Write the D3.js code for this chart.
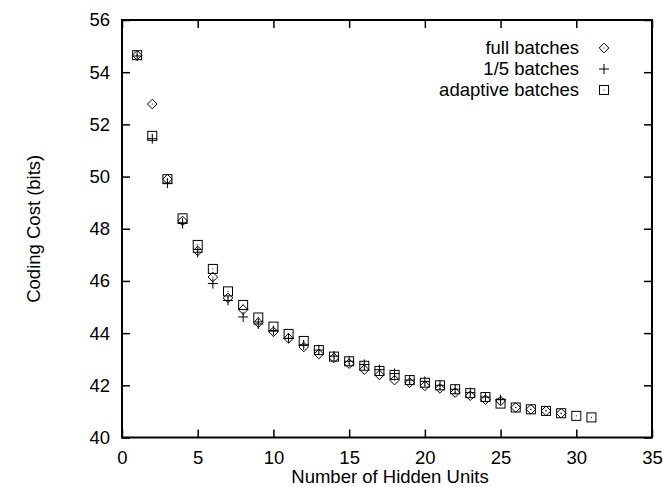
<!DOCTYPE html>
<html>
<head>
<meta charset="utf-8">
<script src="https://cdn.jsdelivr.net/npm/d3@7"></script>
<style>
  html, body { margin: 0; padding: 0; background: #fff; }
  svg { display: block; }
  text { font-family: "Liberation Sans", Arial, Helvetica, sans-serif; fill: #000; }
</style>
</head>
<body>
<svg id="chart" width="663" height="487"></svg>
<script>
// ---- data ----
const fullX = [1,2,3,4,5,6,7,8,9,10,11,12,13,14,15,16,17,18,19,20,21,22,23,24,25,26,27,28,29];
const fullY = [54.65,52.78,49.9,48.3,47.15,46.15,45.35,44.9,44.4,44.05,43.8,43.47,43.2,43.05,42.83,42.6,42.4,42.2,42.1,41.98,41.88,41.72,41.6,41.45,41.4,41.15,41.08,41.02,40.93];
const fifthX = [1,2,3,4,5,6,7,8,9,10,11,12,13,14,15,16,17,18,19,20,21,22,23,24,25];
const fifthY = [54.62,51.45,49.75,48.2,47.1,45.9,45.25,44.62,44.35,44.1,43.8,43.55,43.35,43.12,42.92,42.8,42.6,42.45,42.2,42.15,42.0,41.85,41.72,41.55,41.45];
const adaptX = [1,2,3,4,5,6,7,8,9,10,11,12,13,14,15,16,17,18,19,20,21,22,23,24,25,26,27,28,29,30,31];
const adaptY = [54.65,51.56,49.9,48.4,47.38,46.46,45.6,45.08,44.6,44.25,43.97,43.7,43.35,43.1,42.92,42.75,42.55,42.4,42.2,42.1,42.0,41.85,41.7,41.55,41.3,41.15,41.08,41.02,40.93,40.83,40.77];
const xTicks = [0,5,10,15,20,25,30,35];
const yTicks = [40,42,44,46,48,50,52,54,56];
const legendLabels = ["full batches", "1/5 batches", "adaptive batches"];
const xTitle = "Number of Hidden Units";
const yTitle = "Coding Cost (bits)";

// ---- layout ----
const L = 122, R = 652, T = 20, B = 437.5;
const svg = d3.select("#chart");
const x = d3.scaleLinear().domain([0, 35]).range([L, R]);
const y = d3.scaleLinear().domain([40, 56]).range([B, T]);
const FS = 18.5;
const TL = 8;

// axes with inward ticks
const gB = svg.append("g").attr("transform", `translate(0,${B})`)
  .call(d3.axisBottom(x).tickValues(xTicks).tickSize(-TL).tickPadding(TL + 5).tickFormat(d3.format("d")));
const gT = svg.append("g").attr("transform", `translate(0,${T})`)
  .call(d3.axisTop(x).tickValues(xTicks).tickSize(-TL).tickFormat(""));
const gL = svg.append("g").attr("transform", `translate(${L},0)`)
  .call(d3.axisLeft(y).tickValues(yTicks).tickSize(-TL).tickPadding(TL + 4).tickFormat(d3.format("d")));
const gR = svg.append("g").attr("transform", `translate(${R},0)`)
  .call(d3.axisRight(y).tickValues(yTicks).tickSize(-TL).tickFormat(""));
[gB, gT, gL, gR].forEach(g => {
  g.select(".domain").remove();
  g.selectAll(".tick line").attr("stroke", "#000").attr("stroke-width", 1.5);
  g.selectAll(".tick text").attr("font-size", FS).attr("font-family", "Liberation Sans, Arial, sans-serif");
});
svg.append("rect").attr("x", L).attr("y", T).attr("width", R - L).attr("height", B - T)
  .attr("fill", "none").attr("stroke", "#000").attr("stroke-width", 2);

// titles
svg.append("text").attr("x", (L + R) / 2 + 3).attr("y", 483).attr("text-anchor", "middle")
  .attr("font-size", FS).text(xTitle);
svg.append("text").attr("transform", `translate(40,${(T + B) / 2}) rotate(-90)`)
  .attr("text-anchor", "middle").attr("font-size", FS).text(yTitle);

// markers
function diamond(g, cx, cy) {
  const r = 4.8;
  g.append("path").attr("d", `M${cx},${cy - r}L${cx + r},${cy}L${cx},${cy + r}L${cx - r},${cy}Z`)
    .attr("fill", "none").attr("stroke", "#000").attr("stroke-width", 1);
  g.append("rect").attr("x", cx - 0.5).attr("y", cy - 0.5).attr("width", 1).attr("height", 1).attr("fill", "#000");
}
function plus(g, cx, cy) {
  const r = 5;
  g.append("path").attr("d", `M${cx - r},${cy}H${cx + r}M${cx},${cy - r}V${cy + r}`)
    .attr("fill", "none").attr("stroke", "#000").attr("stroke-width", 1);
}
function square(g, cx, cy) {
  const r = 4.5;
  g.append("rect").attr("x", cx - r).attr("y", cy - r).attr("width", 2 * r).attr("height", 2 * r)
    .attr("fill", "none").attr("stroke", "#000").attr("stroke-width", 1);
  g.append("rect").attr("x", cx - 0.5).attr("y", cy - 0.5).attr("width", 1).attr("height", 1).attr("fill", "#000");
}

const gm = svg.append("g");
fullX.forEach((d, i) => diamond(gm, x(d), y(fullY[i])));
fifthX.forEach((d, i) => plus(gm, x(d), y(fifthY[i])));
adaptX.forEach((d, i) => square(gm, x(d), y(adaptY[i])));

// legend
const legY = [48, 69, 90];
const markers = [diamond, plus, square];
legendLabels.forEach((lab, i) => {
  svg.append("text").attr("x", 579).attr("y", legY[i]).attr("dy", "0.35em")
    .attr("text-anchor", "end").attr("font-size", FS).text(lab);
  markers[i](svg, 604, legY[i]);
});
</script>
</body>
</html>
